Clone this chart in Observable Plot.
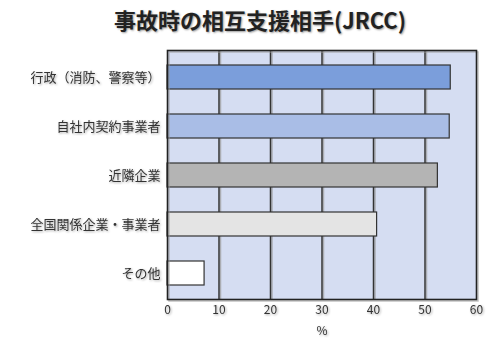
<!DOCTYPE html>
<html>
<head>
<meta charset="utf-8">
<script src="https://cdn.jsdelivr.net/npm/d3@7"></script>
<script src="https://cdn.jsdelivr.net/npm/@observablehq/plot@0.6"></script>
<style>
  html, body { margin: 0; padding: 0; background: #fff; }
  #wrap { position: relative; width: 488px; height: 340px; }
  #title { position: absolute; left: 260px; top: 5px; transform: translateX(-50%); white-space: nowrap;
    font-family: 'Noto Sans CJK JP', sans-serif; font-size: 22px; font-weight: 600; color: #222;
    text-shadow: 1px 1px 2px rgba(0,0,0,0.4); line-height: 28px; }
  #chart { position: absolute; left: 0; top: 40px; }
  #chart svg text { filter: drop-shadow(1px 1px 0.8px rgba(0,0,0,0.35)); }
  #chart svg g[aria-label="y-axis tick label"] text, #chart svg g[aria-label="y-axis"] text { font-size: 13px; }
</style>
</head>
<body>
<div id="wrap">
  <div id="title">事故時の相互支援相手(JRCC)</div>
  <div id="chart"></div>
</div>
<script>
const categories = ["行政（消防、警察等）", "自社内契約事業者", "近隣企業", "全国関係企業・事業者", "その他"];
const values = [55.0, 54.8, 52.5, 40.7, 7.2];
const barColors = ["#7b9edb", "#a9bde6", "#b4b4b4", "#e4e4e4", "#ffffff"];
const xTicks = [0, 10, 20, 30, 40, 50, 60];
const gridLines = [10, 20, 30, 40, 50];

const data = categories.map((c, i) => ({cat: c, value: values[i], color: barColors[i]}));

const chart = Plot.plot({
  width: 488,
  height: 300,
  marginTop: 10,
  marginBottom: 41,
  marginLeft: 167,
  marginRight: 12,
  style: {fontFamily: "'Noto Sans CJK JP', sans-serif", fontSize: "12px", background: "transparent", color: "#333"},
  x: {domain: [0, 60], ticks: xTicks, tickSize: 0, tickPadding: 6, label: "%", labelAnchor: "center", labelOffset: 35, labelArrow: "none"},
  y: {domain: categories, paddingInner: 0.52, paddingOuter: 0.26, tickSize: 0, tickPadding: 7, label: null},
  color: {type: "identity"},
  marks: [
    Plot.frame({fill: "#d5ddf2"}),
    Plot.ruleX(gridLines, {dx: 1.5, stroke: "#999", strokeWidth: 1.5, strokeOpacity: 0.7}),
    Plot.ruleX(gridLines, {stroke: "#333", strokeWidth: 1.5}),
    Plot.barX(data, {x: "value", y: "cat", fill: "color", stroke: "#333", strokeWidth: 1.2}),
    Plot.frame({stroke: "#999", strokeWidth: 1.5, dx: 1.5, dy: 1.5, strokeOpacity: 0.6}),
    Plot.frame({stroke: "#222", strokeWidth: 1.6})
  ]
});
document.getElementById("chart").appendChild(chart);
</script>
</body>
</html>
